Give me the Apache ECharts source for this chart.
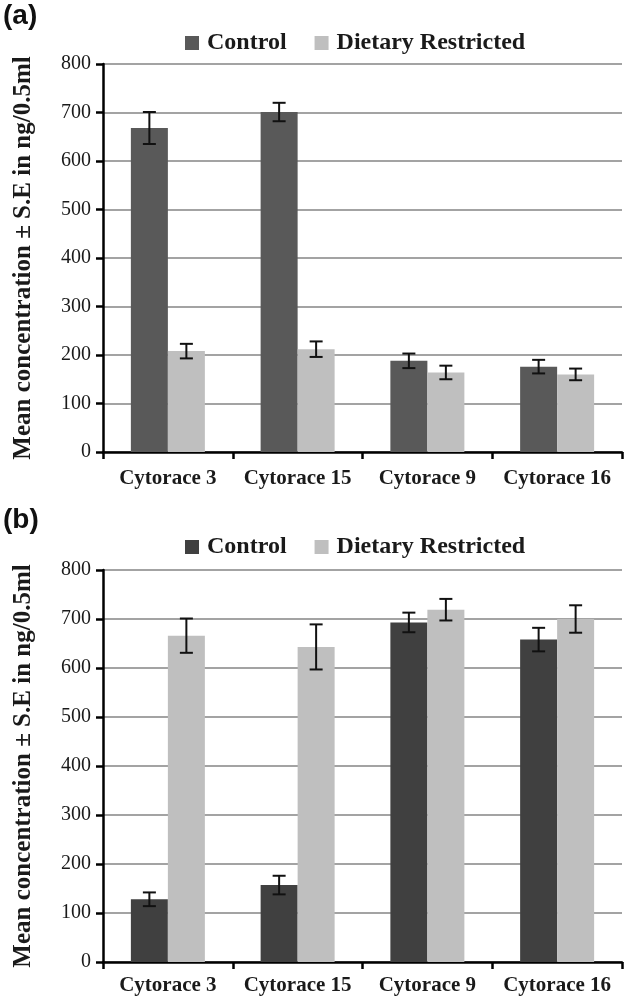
<!DOCTYPE html>
<html>
<head>
<meta charset="utf-8">
<script src="https://cdn.jsdelivr.net/npm/echarts@6/dist/echarts.min.js"></script>
<style>
html,body{margin:0;padding:0;background:#fff;}
#main{width:624px;height:998px;}
</style>
</head>
<body>
<div id="main"></div>
<script>
var categories = ['Cytorace 3', 'Cytorace 15', 'Cytorace 9', 'Cytorace 16'];
var seriesNames = ['Control', 'Dietary Restricted'];
var yTicks = [0, 100, 200, 300, 400, 500, 600, 700, 800];

// Panel (a)
var aControl = [668, 701, 188, 176];
var aControlErr = [33, 19, 15, 14];
var aDietary = [208, 212, 164, 160];
var aDietaryErr = [15, 16, 14, 12];

// Panel (b)
var bControl = [128, 157, 693, 658];
var bControlErr = [14, 19, 20, 24];
var bDietary = [666, 643, 719, 700];
var bDietaryErr = [35, 46, 22, 28];

var SERIF = '"Liberation Serif", "DejaVu Serif", serif';
var SANS = '"Liberation Sans", Arial, sans-serif';
var BAR_W = 37;
var TEXT = '#1a1a1a';

var chart = echarts.init(document.getElementById('main'), null, {renderer: 'canvas'});

function errSeries(xi, yi, vals, errs, offset) {
  var data = vals.map(function (v, i) { return [i, v, errs[i]]; });
  return {
    type: 'custom',
    xAxisIndex: xi, yAxisIndex: yi,
    silent: true, z: 10,
    data: data,
    renderItem: function (params, api) {
      var c = api.value(0), v = api.value(1), e = api.value(2);
      var hi = api.coord([c, v + e]);
      var lo = api.coord([c, v - e]);
      var x = hi[0] + offset;
      var cap = 6.5;
      var st = {stroke: '#111', lineWidth: 2};
      return {
        type: 'group',
        children: [
          {type: 'line', shape: {x1: x, y1: hi[1], x2: x, y2: lo[1]}, style: st},
          {type: 'line', shape: {x1: x - cap, y1: hi[1], x2: x + cap, y2: hi[1]}, style: st},
          {type: 'line', shape: {x1: x - cap, y1: lo[1], x2: x + cap, y2: lo[1]}, style: st}
        ]
      };
    }
  };
}

function xAxisCfg(gi, margin) {
  return {
    type: 'category', gridIndex: gi, data: categories,
    axisLine: {lineStyle: {color: '#000', width: 2.5}},
    axisTick: {show: true, interval: 0, length: 7, lineStyle: {color: '#000', width: 2.5}},
    axisLabel: {interval: 0, hideOverlap: false, color: TEXT, fontFamily: SERIF, fontWeight: 'bold', fontSize: 21, margin: margin},
    splitLine: {show: false}
  };
}
function yAxisCfg(gi) {
  return {
    type: 'value', gridIndex: gi, min: yTicks[0], max: yTicks[yTicks.length - 1], interval: 100,
    name: 'Mean concentration \u00b1 S.E in ng/0.5ml',
    nameLocation: 'middle', nameGap: 67,
    nameTextStyle: {color: TEXT, fontFamily: SERIF, fontWeight: 'bold', fontSize: 25},
    axisLine: {show: true, lineStyle: {color: '#000', width: 2.5}},
    axisTick: {show: true, length: 7, lineStyle: {color: '#000', width: 2.5}},
    axisLabel: {color: TEXT, fontFamily: SERIF, fontSize: 20, margin: 12},
    splitLine: {show: true, lineStyle: {color: '#a3a3a3', width: 2}}
  };
}

function legendCfg(top, ctrlColor) {
  return {
    top: top, left: 180, itemWidth: 14, itemHeight: 14, itemGap: 28,
    icon: 'rect',
    textStyle: {color: TEXT, fontFamily: SERIF, fontWeight: 'bold', fontSize: 24, padding: [0, 0, 0, 3]},
    data: [
      {name: 'Control', itemStyle: {color: ctrlColor}},
      {name: 'Dietary Restricted', itemStyle: {color: '#bfbfbf'}}
    ]
  };
}

var option = {
  animation: false,
  backgroundColor: '#fff',
  graphic: [
    {type: 'text', left: 3, top: 2, style: {text: '(a)', font: 'bold 28px ' + SANS, fill: '#111'}},
    {type: 'text', left: 3, top: 506, style: {text: '(b)', font: 'bold 28px ' + SANS, fill: '#111'}}
  ],
  legend: [legendCfg(26, '#595959'), legendCfg(530, '#404040')],
  grid: [
    {left: 103, right: 2, top: 64, height: 388},
    {left: 103, right: 2, top: 570, height: 392}
  ],
  xAxis: [xAxisCfg(0, 16), xAxisCfg(1, 13)],
  yAxis: [yAxisCfg(0), yAxisCfg(1)],
  series: [
    {name: seriesNames[0], type: 'bar', xAxisIndex: 0, yAxisIndex: 0, data: aControl, barWidth: BAR_W, barGap: '0%', itemStyle: {color: '#595959'}},
    {name: seriesNames[1], type: 'bar', xAxisIndex: 0, yAxisIndex: 0, data: aDietary, barWidth: BAR_W, barGap: '0%', itemStyle: {color: '#bfbfbf'}},
    {name: seriesNames[0], type: 'bar', xAxisIndex: 1, yAxisIndex: 1, data: bControl, barWidth: BAR_W, barGap: '0%', itemStyle: {color: '#404040'}},
    {name: seriesNames[1], type: 'bar', xAxisIndex: 1, yAxisIndex: 1, data: bDietary, barWidth: BAR_W, barGap: '0%', itemStyle: {color: '#bfbfbf'}},
    errSeries(0, 0, aControl, aControlErr, -BAR_W / 2),
    errSeries(0, 0, aDietary, aDietaryErr, BAR_W / 2),
    errSeries(1, 1, bControl, bControlErr, -BAR_W / 2),
    errSeries(1, 1, bDietary, bDietaryErr, BAR_W / 2)
  ]
};
chart.setOption(option);
</script>
</body>
</html>
